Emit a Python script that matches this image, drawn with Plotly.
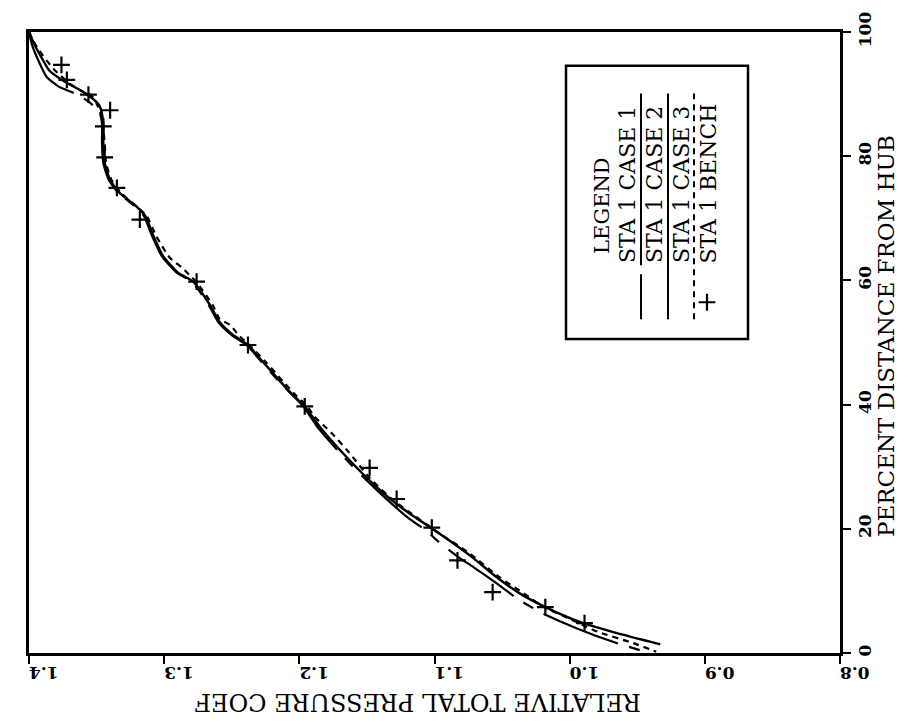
import plotly.graph_objects as go

# ---------------- data ----------------
case2_pct = [100, 98, 96, 93.8, 92.2, 90.1, 88.2, 85.3, 82.1, 78.9, 76.2, 74.1, 72.0, 70.4,
             67.2, 64.0, 61.3, 59.7, 56.0, 53.3, 51.2, 49.6, 46.9, 43.7, 41.6, 39.7, 36.2,
             32.0, 28.2, 24.5, 22.4, 20.2, 18.1, 15.4, 12.2, 9.6, 7.4, 4.8, 3.2, 1.4]
case2_coef = [1.400, 1.396, 1.391, 1.385, 1.375, 1.358, 1.348, 1.345, 1.345, 1.344, 1.340,
              1.333, 1.321, 1.314, 1.308, 1.301, 1.290, 1.278, 1.266, 1.259, 1.249, 1.238,
              1.227, 1.214, 1.205, 1.196, 1.184, 1.167, 1.150, 1.131, 1.118, 1.103, 1.089,
              1.072, 1.054, 1.037, 1.018, 0.990, 0.965, 0.933]

case1_pct = [100, 98.1, 94.9, 92.8, 91.2, 90.1, 88.8, 87.2, 85.3, 82.1, 78.9, 76.2, 74.1,
             72.0, 70.4, 67.2, 64.0, 61.3, 59.7, 56.0, 53.3, 51.2, 49.6, 46.9, 43.7, 39.7,
             36.2, 32.0, 28.2, 24.5, 21.5, 19.7, 18.1, 15.4, 13.8, 11.2, 8.5, 6.4, 4.0, 1.8, 0.0]
case1_coef = [1.400, 1.398, 1.392, 1.387, 1.378, 1.366, 1.356, 1.348, 1.346, 1.346, 1.345,
              1.341, 1.334, 1.322, 1.315, 1.309, 1.302, 1.291, 1.279, 1.267, 1.260, 1.250,
              1.239, 1.228, 1.215, 1.197, 1.186, 1.169, 1.152, 1.134, 1.118, 1.106, 1.098,
              1.082, 1.071, 1.054, 1.037, 1.020, 0.995, 0.968, 0.941]

case3_pct = [100, 97.5, 94.1, 91.7, 90.6, 89.8, 88.5, 86.0, 82.1, 78.9, 76.2, 74.1, 72.0,
             70.4, 67.2, 63.7, 62.1, 60.8, 59.7, 56.0, 53.8, 52.8, 51.2, 49.6, 46.9, 43.7,
             41.6, 39.7, 38.1, 35.4, 32.5, 28.2, 24.5, 22.6, 19.2, 16.2, 12.2, 9.6, 7.4,
             5.5, 3.4, 1.6, 0.2]
case3_coef = [1.400, 1.394, 1.382, 1.370, 1.362, 1.354, 1.350, 1.346, 1.344, 1.343, 1.339,
              1.332, 1.321, 1.313, 1.306, 1.296, 1.287, 1.281, 1.276, 1.264, 1.259, 1.251,
              1.245, 1.237, 1.225, 1.212, 1.203, 1.194, 1.189, 1.176, 1.164, 1.148, 1.130,
              1.118, 1.096, 1.075, 1.052, 1.034, 1.019, 1.000, 0.979, 0.953, 0.936]

bench_pct = [94.7, 92.3, 89.9, 87.4, 84.8, 79.8, 74.9, 69.8, 59.8, 49.6, 39.7, 29.8, 24.8,
             20.2, 14.9, 9.8, 7.4, 4.8]
bench_coef = [1.376, 1.372, 1.356, 1.340, 1.345, 1.344, 1.335, 1.318, 1.276, 1.238, 1.196,
              1.148, 1.128, 1.102, 1.083, 1.057, 1.018, 0.989]

coef_ticks = [1.4, 1.3, 1.2, 1.1, 1.0, 0.9, 0.8]
pct_ticks = [0, 20, 40, 60, 80, 100]

legend_title = "LEGEND"
legend_labels = ["STA 1 CASE 1", "STA 1 CASE 2", "STA 1 CASE 3", "STA 1 BENCH"]
x_title = "RELATIVE TOTAL PRESSURE COEF"
y_title = "PERCENT DISTANCE FROM HUB"

# ---------------- layout helpers ----------------
W, H = 903, 723
PL, PR, PT, PB = 29, 840, 28, 653


def px(x):
    return (x - PL) / (PR - PL)


def py(y):
    return (PB - y) / (PB - PT)


SERIF = "DejaVu Serif"
BLACK = "#000000"

fig = go.Figure()

fig.add_trace(go.Scatter(x=case1_coef, y=case1_pct, mode="lines",
                         line=dict(color=BLACK, width=2.2, dash="80px,12px,11px,12px",
                                   shape="spline", smoothing=0.6),
                         name=legend_labels[0]))
fig.add_trace(go.Scatter(x=case2_coef, y=case2_pct, mode="lines",
                         line=dict(color=BLACK, width=2.4, shape="spline", smoothing=0.6),
                         name=legend_labels[1]))
fig.add_trace(go.Scatter(x=case3_coef, y=case3_pct, mode="lines",
                         line=dict(color=BLACK, width=2.2, dash="6px,5px",
                                   shape="spline", smoothing=0.6),
                         name=legend_labels[2]))
fig.add_trace(go.Scatter(x=bench_coef, y=bench_pct, mode="markers",
                         marker=dict(symbol="cross-thin", size=12, color=BLACK,
                                     line=dict(color=BLACK, width=2.2)),
                         name=legend_labels[3]))

fig.update_layout(
    width=W, height=H,
    margin=dict(l=PL, r=W - PR, t=PT, b=H - PB),
    paper_bgcolor="white", plot_bgcolor="white",
    showlegend=False,
    font=dict(family=SERIF, color=BLACK),
)

fig.update_xaxes(
    range=[1.4, 0.8], tickvals=coef_ticks, tickformat=".1f",
    showgrid=False, zeroline=False,
    showline=True, linecolor=BLACK, linewidth=2.5, mirror=True,
    ticks="outside", ticklen=8, tickwidth=2, tickcolor=BLACK,
    tickangle=180,
    tickfont=dict(family=SERIF, size=17, color=BLACK, weight="bold"),
)
fig.update_yaxes(
    range=[0, 100], tickvals=pct_ticks, side="right",
    showgrid=False, zeroline=False,
    showline=True, linecolor=BLACK, linewidth=2.5, mirror=True,
    ticks="outside", ticklen=8, tickwidth=2, tickcolor=BLACK,
    tickangle=-90,
    tickfont=dict(family=SERIF, size=17, color=BLACK, weight="bold"),
)

annotations = []
annotations.append(dict(text=x_title, xref="paper", yref="paper",
                        x=px(418), y=py(703), textangle=180,
                        showarrow=False, xanchor="center", yanchor="middle",
                        font=dict(family=SERIF, size=24, color=BLACK)))
annotations.append(dict(text=y_title, xref="paper", yref="paper",
                        x=px(886), y=py(334), textangle=-90,
                        showarrow=False, xanchor="center", yanchor="middle",
                        font=dict(family=SERIF, size=23, color=BLACK)))

# legend (rotated)
annotations.append(dict(text=legend_title, xref="paper", yref="paper",
                        x=px(602), y=py(203), textangle=-90, showarrow=False,
                        xanchor="center", yanchor="middle",
                        font=dict(family=SERIF, size=21, color=BLACK)))
label_x = [628, 655, 682, 708]
for lx, lab in zip(label_x, legend_labels):
    annotations.append(dict(text=lab, xref="paper", yref="paper",
                            x=px(lx), y=py(263), textangle=-90, showarrow=False,
                            xanchor="center", yanchor="bottom",
                            font=dict(family=SERIF, size=22, color=BLACK)))
fig.update_layout(annotations=annotations)

shapes = []
shapes.append(dict(type="rect", xref="paper", yref="paper",
                   x0=px(566), x1=px(748), y0=py(337), y1=py(62),
                   line=dict(color=BLACK, width=2.5), fillcolor="white", layer="below"))
line_x = [641, 668, 694]
line_dash = ["45px,9px,250px", "solid", "6px,5px"]
for lx, d in zip(line_x, line_dash):
    shapes.append(dict(type="line", xref="paper", yref="paper",
                       x0=px(lx), x1=px(lx), y0=py(317), y1=py(90),
                       line=dict(color=BLACK, width=2, dash=d)))
fig.update_layout(shapes=shapes)

# bench legend marker
fig.add_trace(go.Scatter(x=[1.4 - (707 - PL) / (PR - PL) * 0.6],
                         y=[(PB - 300) / (PB - PT) * 100], mode="markers",
                         marker=dict(symbol="cross-thin", size=12, color=BLACK,
                                     line=dict(color=BLACK, width=2.2)),
                         hoverinfo="skip", showlegend=False))

fig.write_html("out.html")
